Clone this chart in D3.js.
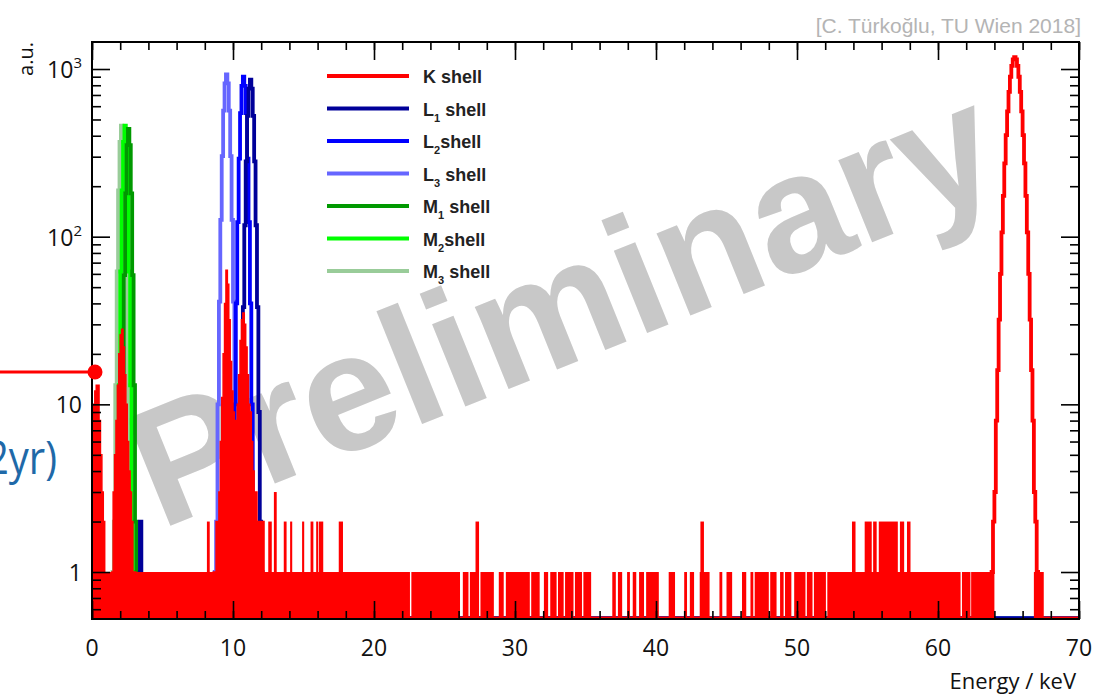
<!DOCTYPE html>
<html><head><meta charset="utf-8">
<script src="https://cdn.jsdelivr.net/npm/d3@7"></script>
<style>body{margin:0;background:#fff} svg{display:block}</style>
</head><body>
<svg id="c" width="1095" height="695"></svg>
<script>
// ---------------- data ----------------
const binWidth = 0.1;            // keV per bin
const energyRange = [0, 70];     // keV
const countRange = [0.5245, 1449];

// K shell histogram: low-energy structure (dense bins, appears filled)
const kSpikeStart = 0.0;
const kSpikeCounts = [10, 10, 12, 13, 13, 8, 5, 3, 2];
const kMStart = 1.4;
const kMCounts = [1, 3, 5, 8, 13, 20, 26, 28, 22, 15, 10, 6, 4, 3, 2, 1, 1];
const kLStart = 8.6;
const kLCounts = [1, 1, 2, 2, 3, 6, 11, 20, 40, 63, 52, 32, 18, 12, 9, 8, 8, 10, 15, 24, 32, 35, 30, 22, 15, 10, 9, 6, 4, 3, 3, 2, 2, 2, 2, 2];
// K shell main peak (smooth, outline)
const kPeakStart = 63.8;
const kPeakCounts = [1, 2, 3, 8, 16, 32, 60, 106, 175, 274, 403, 559, 730, 899, 1043, 1141, 1175,
                     1141, 1043, 899, 730, 559, 403, 274, 175, 106, 60, 32, 16, 8, 3, 2, 1];
// K shell background: energy ranges where bins are at 1 count
const kBackground = [
  [0.0, 22.55], [22.65, 26.1], [26.3, 26.7], [26.8, 27.4], [27.55, 28.5], [28.85, 29.2],
  [29.35, 31.05], [31.15, 31.75], [32.05, 32.35], [32.5, 32.95], [33.05, 33.45], [33.55, 34.15],
  [34.25, 34.75], [34.85, 35.4], [36.9, 37.15], [37.3, 37.6], [37.95, 38.15], [38.35, 38.6],
  [38.8, 39.15], [39.3, 40.2], [40.9, 41.35], [42.0, 42.2], [42.4, 42.7], [43.1, 43.8],
  [44.5, 44.7], [45.0, 45.4], [46.1, 46.4], [46.7, 46.9], [47.0, 48.0], [48.1, 48.55],
  [48.8, 49.05], [49.15, 49.6], [49.8, 50.6], [50.7, 51.1], [51.2, 52.05], [52.15, 61.6],
  [61.7, 62.3], [62.35, 64.0], [66.8, 67.5]
];
// K shell single bins above 1 count: [from keV, to keV, counts]
const kSpikes = [
  [8.15, 8.35, 2], [12.5, 12.75, 2], [12.9, 13.1, 3], [13.6, 13.8, 2], [14.05, 14.2, 2],
  [14.9, 15.05, 2], [15.5, 15.7, 2], [15.9, 16.05, 2], [16.1, 16.4, 2], [17.5, 17.8, 2],
  [27.2, 27.45, 2], [43.15, 43.4, 2], [53.9, 54.15, 2], [54.8, 55.3, 2], [55.4, 55.65, 2],
  [55.8, 57.15, 2], [57.3, 57.6, 2], [57.8, 58.05, 2]
];

// other shells (outline histograms)
const l1Start = 10.4, l1Counts = [1, 2, 9, 38, 117, 281, 525, 763, 865, 763, 525, 281, 117, 38, 9, 2, 1];
const l1ExtraStart = [2.1, 3.4], l1ExtraCounts = [[1, 1], [2]];
const l2Start = 9.9,  l2Counts = [1, 2, 10, 40, 122, 292, 546, 794, 900, 794, 546, 292, 122, 40, 10, 2, 1];
const l3Start = 8.7,  l3Counts = [1, 2, 10, 41, 126, 302, 564, 820, 930, 820, 564, 302, 126, 41, 10, 2, 1];
const m1Start = 1.95, m1Counts = [1, 2, 13, 59, 181, 352, 440, 352, 181, 59, 13, 2, 1];
const m2Start = 1.7,  m2Counts = [1, 2, 13, 62, 189, 368, 460, 368, 189, 62, 13, 2, 1];
const m3Start = 1.45, m3Counts = [1, 2, 13, 62, 189, 368, 460, 368, 189, 62, 13, 2, 1];

const legendLabels = [["K", "", " shell"], ["L", "1", " shell"], ["L", "2", "shell"], ["L", "3", " shell"],
                      ["M", "1", " shell"], ["M", "2", "shell"], ["M", "3", " shell"]];
const legendColors = ["#ff0000", "#000099", "#0000ff", "#6666ff", "#009900", "#00ff00", "#99cc99"];

const xMajorTicks = [0, 10, 20, 30, 40, 50, 60, 70];
const xMinorTicks = d3.range(0, 71, 2);
const yMajorTicks = [1, 10, 100, 1000];
const yMinorTicks = [0.6, 0.7, 0.8, 0.9, 2, 3, 4, 5, 6, 7, 8, 9, 20, 30, 40, 50, 60, 70, 80, 90,
                     200, 300, 400, 500, 600, 700, 800, 900];
const yTickLabels = [["1", ""], ["10", ""], ["10", "2"], ["10", "3"]];

// ---------------- drawing ----------------
const svg = d3.select("#c");
const L = 92, R = 1079, T = 42, B = 619;
const x = d3.scaleLinear().domain(energyRange).range([L, R]);
const y = d3.scaleLog().domain(countRange).range([B, T]);
const yZero = B - 0.5;
const yv = v => v > 0 ? y(v) : yZero;

svg.append("defs").append("clipPath").attr("id", "clip")
  .append("rect").attr("x", L).attr("y", T).attr("width", R - L).attr("height", B - T);

// watermark (behind the histograms)
svg.append("text").attr("transform", "translate(160,530) rotate(-22)")
  .attr("font-family", "'Liberation Sans', Arial, sans-serif").attr("font-weight", "bold")
  .attr("font-size", 168).attr("fill", "#c8c8c8").text("Preliminary");

const plot = svg.append("g").attr("clip-path", "url(#clip)");

function stepPoints(blocks, full) {
  const pts = full ? [[energyRange[0], 0]] : [];
  blocks.forEach(b => {
    const end = b.start + b.counts.length * binWidth;
    pts.push([b.start, 0]);
    b.counts.forEach((c, i) => {
      const e0 = b.start + i * binWidth;
      pts.push([e0, c], [e0 + binWidth, c]);
    });
    pts.push([end, 0]);
  });
  if (full) pts.push([energyRange[1], 0]);
  return pts;
}
const line = d3.line().x(d => x(d[0])).y(d => yv(d[1]));
const area = d3.area().x(d => x(d[0])).y0(yZero).y1(d => yv(d[1]));

const outlineSeries = [
  {color: "#99cc99", blocks: [{start: m3Start, counts: m3Counts}]},
  {color: "#00ff00", blocks: [{start: m2Start, counts: m2Counts}]},
  {color: "#009900", blocks: [{start: m1Start, counts: m1Counts}]},
  {color: "#6666ff", blocks: [{start: l3Start, counts: l3Counts}]},
  {color: "#0000ff", blocks: [{start: l2Start, counts: l2Counts}]},
  {color: "#000099", blocks: l1ExtraStart.map((s, i) => ({start: s, counts: l1ExtraCounts[i]}))
                              .concat([{start: l1Start, counts: l1Counts}])},
  {color: "#ff0000", blocks: [{start: kPeakStart, counts: kPeakCounts}]}
];
outlineSeries.forEach(s => {
  plot.append("path").attr("d", line(stepPoints(s.blocks, true)))
    .attr("fill", "none").attr("stroke", s.color).attr("stroke-width", 3.8);
});

// K shell dense region (filled look)
const red = plot.append("g").attr("fill", "#ff0000");
red.selectAll("rect.bg").data(kBackground).join("rect").attr("class", "bg")
  .attr("x", d => x(d[0])).attr("width", d => x(d[1]) - x(d[0]))
  .attr("y", y(1)).attr("height", B - y(1));
red.selectAll("rect.sp").data(kSpikes).join("rect").attr("class", "sp")
  .attr("x", d => x(d[0])).attr("width", d => x(d[1]) - x(d[0]))
  .attr("y", d => y(d[2])).attr("height", d => B - y(d[2]));
[[kSpikeStart, kSpikeCounts], [kMStart, kMCounts], [kLStart, kLCounts]].forEach(([s, c]) => {
  red.append("path").attr("d", area(stepPoints([{start: s, counts: c}], false)))
    .attr("stroke", "#ff0000").attr("stroke-width", 1.5);
});

// ticks
function tickAxis(axis, g, size) {
  const a = svg.append("g").attr("transform", g).call(axis.tickSize(size).tickFormat(""));
  a.select(".domain").remove();
  a.selectAll("line").attr("stroke", "#000").attr("stroke-width", 1.6);
}
tickAxis(d3.axisTop(x).tickValues(xMajorTicks), `translate(0,${B})`, 18);
tickAxis(d3.axisTop(x).tickValues(xMinorTicks), `translate(0,${B})`, 8);
tickAxis(d3.axisBottom(x).tickValues(xMajorTicks), `translate(0,${T})`, 18);
tickAxis(d3.axisBottom(x).tickValues(xMinorTicks), `translate(0,${T})`, 8);
tickAxis(d3.axisRight(y).tickValues(yMajorTicks), `translate(${L},0)`, 18);
tickAxis(d3.axisRight(y).tickValues(yMinorTicks), `translate(${L},0)`, 9);
tickAxis(d3.axisLeft(y).tickValues(yMajorTicks), `translate(${R},0)`, 18);
tickAxis(d3.axisLeft(y).tickValues(yMinorTicks), `translate(${R},0)`, 9);

// frame
svg.append("rect").attr("x", L).attr("y", T).attr("width", R - L).attr("height", B - T)
  .attr("fill", "none").attr("stroke", "#000").attr("stroke-width", 2);

// tick labels
const labelFont = "'Open Sans', 'DejaVu Sans', sans-serif";
svg.append("g").selectAll("text").data(xMajorTicks).join("text")
  .attr("x", d => x(d)).attr("y", 656).attr("text-anchor", "middle")
  .attr("font-family", labelFont).attr("font-size", 23).attr("fill", "#111").text(d => d);
const yl = svg.append("g").selectAll("text").data(yMajorTicks).join("text")
  .attr("x", 82).attr("y", d => y(d) + 9).attr("text-anchor", "end")
  .attr("font-family", labelFont).attr("font-size", 23).attr("fill", "#111");
yl.each(function(d, i) {
  const t = d3.select(this);
  t.append("tspan").text(yTickLabels[i][0]);
  if (yTickLabels[i][1]) t.append("tspan").attr("dy", -10).attr("font-size", 15).text(yTickLabels[i][1]);
});

// axis titles
svg.append("text").attr("x", 1076).attr("y", 689).attr("text-anchor", "end")
  .attr("font-family", labelFont).attr("font-size", 22).attr("fill", "#111").text("Energy / keV");
svg.append("text").attr("transform", "translate(33,42) rotate(-90)").attr("text-anchor", "end")
  .attr("font-family", labelFont).attr("font-size", 20).attr("fill", "#111").text("a.u.");

// legend
const lg = svg.append("g");
legendLabels.forEach((lab, i) => {
  const ly = 76 + i * 32.5;
  lg.append("line").attr("x1", 327).attr("x2", 409).attr("y1", ly).attr("y2", ly)
    .attr("stroke", legendColors[i]).attr("stroke-width", 4);
  const t = lg.append("text").attr("x", 423).attr("y", ly + 7)
    .attr("font-family", "'Liberation Sans', Arial, sans-serif").attr("font-weight", "bold")
    .attr("font-size", 18).attr("fill", "#222");
  t.append("tspan").text(lab[0]);
  if (lab[1]) t.append("tspan").attr("dy", 6).attr("font-size", 11).text(lab[1]);
  t.append("tspan").attr("dy", lab[1] ? -6 : 0).text(lab[2]);
});

// credit
svg.append("text").attr("x", 1081).attr("y", 33).attr("text-anchor", "end")
  .attr("font-family", "'Liberation Sans', Arial, sans-serif").attr("font-size", 21)
  .attr("fill", "#b4b4b4").text("[C. Türkoğlu, TU Wien 2018]");

// slide overlay elements at the left edge
svg.append("line").attr("x1", 0).attr("x2", 95).attr("y1", 372).attr("y2", 372)
  .attr("stroke", "#ff0000").attr("stroke-width", 3);
svg.append("circle").attr("cx", 95).attr("cy", 372).attr("r", 7.5).attr("fill", "#ff0000");
svg.append("text").attr("transform", "translate(57,474) scale(0.87,1)").attr("text-anchor", "end")
  .attr("font-family", labelFont).attr("font-size", 46).attr("fill", "#1f69a8").text("2yr)");
</script>
</body></html>
